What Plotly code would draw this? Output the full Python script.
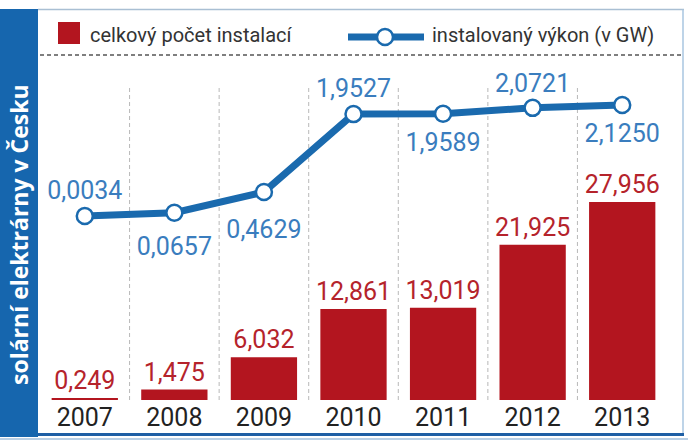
import plotly.graph_objects as go

years = ["2007", "2008", "2009", "2010", "2011", "2012", "2013"]
installations = [0.249, 1.475, 6.032, 12.861, 13.019, 21.925, 27.956]
power_gw = [0.0034, 0.0657, 0.4629, 1.9527, 1.9589, 2.0721, 2.1250]
power_text_pos = ["top center", "bottom center", "bottom center", "top center",
                  "bottom center", "top center", "bottom center"]
# invisible marker sizes, used only to push each value label away from its point
label_gap = [16, 36, 42, 16, 28, 14, 28]

RED = "#b3151f"
RED_TXT = "#b5232b"
BLUE = "#1a6aae"
BLUE_TXT = "#3a7dbe"
BAND = "#1666ae"
FONT = "Roboto, Liberation Sans, sans-serif"

W, H = 688, 443
L, R, T, B = 40, 21, 60, 43
PW, PH = W - L - R, H - T - B


def px(x):
    return (x - L) / PW


def py(y):
    return (H - B - y) / PH


fig = go.Figure()
fig.add_trace(
    go.Bar(
        x=years,
        y=installations,
        marker=dict(color=RED, line=dict(width=0)),
        width=0.74,
        texttemplate="%{y:.3f}",
        textposition="outside",
        textfont=dict(color=RED_TXT, size=25, family=FONT),
        constraintext="none",
        cliponaxis=False,
        name="celkový počet instalací",
    )
)
fig.add_trace(
    go.Scatter(
        x=years,
        y=power_gw,
        yaxis="y2",
        mode="lines+markers",
        line=dict(color=BLUE, width=7),
        marker=dict(size=16, color="white", line=dict(color=BLUE, width=2.5)),
        cliponaxis=False,
        name="instalovaný výkon (v GW)",
    )
)
fig.add_trace(
    go.Scatter(
        x=years,
        y=power_gw,
        yaxis="y2",
        mode="markers+text",
        marker=dict(size=label_gap, color="rgba(0,0,0,0)", line=dict(width=0)),
        texttemplate="%{y:.4f}",
        textposition=power_text_pos,
        textfont=dict(color=BLUE_TXT, size=25, family=FONT),
        cliponaxis=False,
        hoverinfo="skip",
        showlegend=False,
    )
)

shapes = []
# category separators
for i in range(len(years) - 1):
    shapes.append(dict(type="line", xref="x", yref="paper", x0=i + 0.5, x1=i + 0.5,
                       y0=0, y1=py(88), line=dict(color="#b8b8b8", width=1, dash="4px,3px"),
                       layer="below"))
# frame
shapes += [
    dict(type="rect", xref="paper", yref="paper", x0=px(0), x1=px(38), y0=py(437), y1=py(9),
         fillcolor=BAND, line=dict(width=0)),
    dict(type="line", xref="paper", yref="paper", x0=px(38), x1=px(684), y0=py(9.5), y1=py(9.5),
         line=dict(color="#a9bfd3", width=1.5)),
    dict(type="line", xref="paper", yref="paper", x0=px(683), x1=px(683), y0=py(434), y1=py(9.5),
         line=dict(color="#a9c6e0", width=1.5)),
    dict(type="line", xref="paper", yref="paper", x0=px(38), x1=px(684), y0=py(434.5), y1=py(434.5),
         line=dict(color="#1e5fa5", width=3)),
    dict(type="line", xref="paper", yref="paper", x0=px(0), x1=px(688), y0=py(439), y1=py(439),
         line=dict(color="#b9d0e6", width=2)),
    dict(type="line", xref="paper", yref="paper", x0=px(40), x1=px(683), y0=py(55), y1=py(55),
         line=dict(color="#555555", width=1.3, dash="4px,3px")),
    # legend symbols
    dict(type="rect", xref="paper", yref="paper", x0=px(58), x1=px(80), y0=py(44), y1=py(22),
         fillcolor=RED, line=dict(width=0)),
    dict(type="line", xref="paper", yref="paper", x0=px(348), x1=px(424), y0=py(37), y1=py(37),
         line=dict(color=BLUE, width=7)),
    dict(type="circle", xref="paper", yref="paper", x0=px(377), x1=px(393), y0=py(45), y1=py(29),
         fillcolor="white", line=dict(color=BLUE, width=2.5)),
]

annotations = [
    dict(text="celkový počet instalací", xref="paper", yref="paper", x=px(88), y=py(35),
         xanchor="left", yanchor="middle", showarrow=False,
         font=dict(size=20, color="#333333", family=FONT)),
    dict(text="instalovaný výkon (v GW)", xref="paper", yref="paper", x=px(430), y=py(35),
         xanchor="left", yanchor="middle", showarrow=False,
         font=dict(size=20, color="#333333", family=FONT)),
    dict(text="<b>solární elektrárny v Česku</b>", xref="paper", yref="paper", x=px(19), y=py(235),
         xanchor="center", yanchor="middle", textangle=-90, showarrow=False,
         font=dict(size=23, color="white", family="Open Sans, sans-serif")),
]

fig.update_layout(
    width=W,
    height=H,
    margin=dict(l=L, r=R, t=T, b=B),
    paper_bgcolor="white",
    plot_bgcolor="white",
    separators=", ",
    showlegend=False,
    bargap=0.26,
    xaxis=dict(type="category", range=[-0.5, 6.5], showgrid=False, zeroline=False,
               showline=False, ticks="", tickfont=dict(size=25, color="#222222", family=FONT),
               fixedrange=True),
    yaxis=dict(range=[0, 48.0], visible=False, fixedrange=True),
    yaxis2=dict(range=[-3.514, 2.987], overlaying="y", visible=False, fixedrange=True),
    shapes=shapes,
    annotations=annotations,
)

fig.write_html(
    "out.html",
    config=dict(displayModeBar=False),
    post_script="document.body.style.margin='0';document.body.style.overflow='hidden';",
)
